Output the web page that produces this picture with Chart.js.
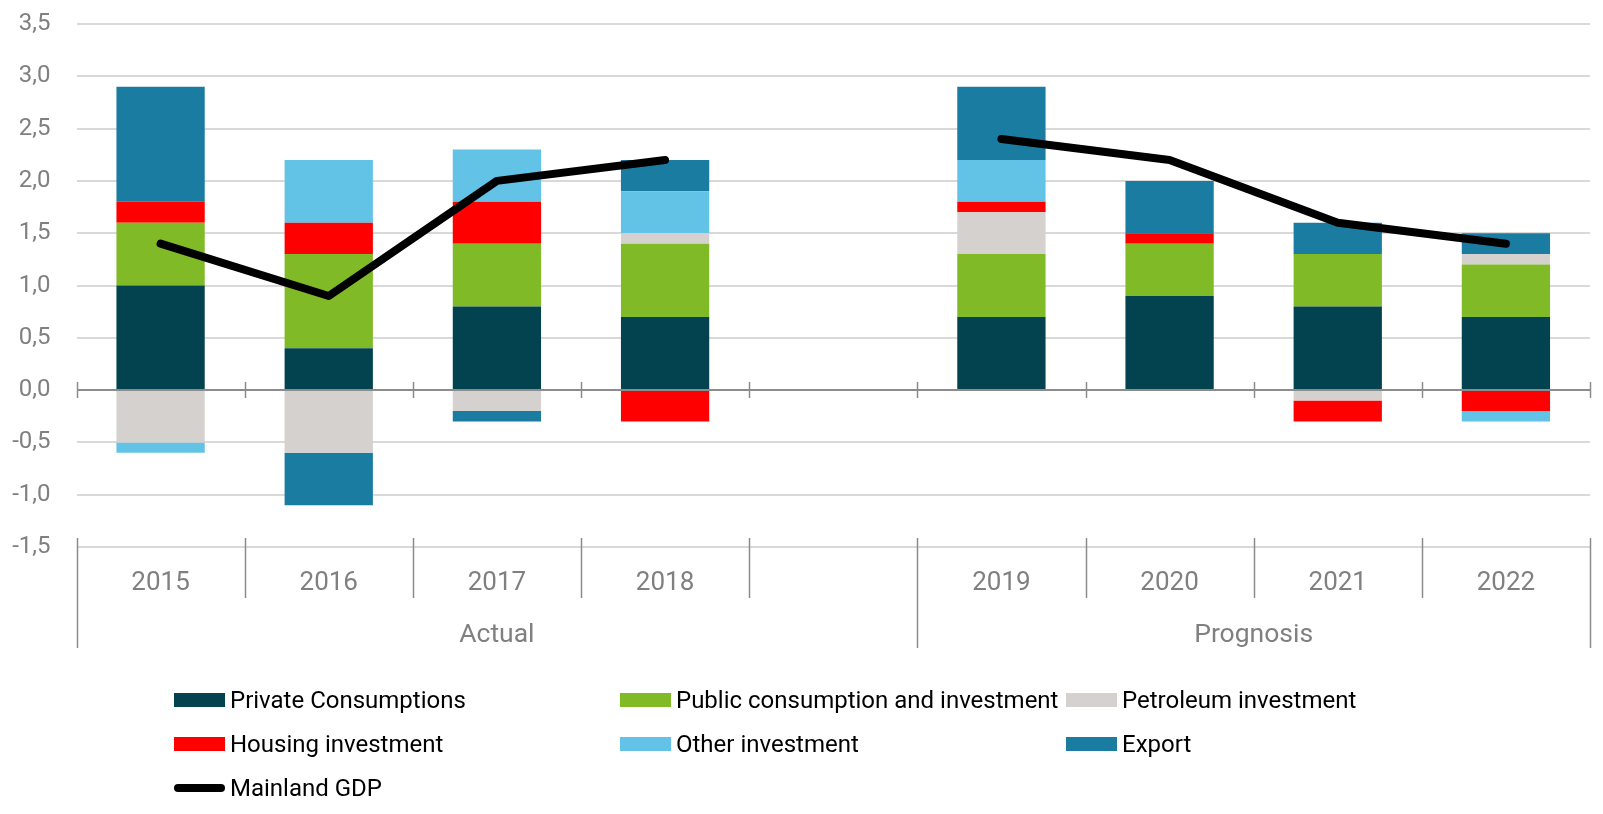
<!DOCTYPE html>
<html>
<head>
<meta charset="utf-8">
<script src="https://cdn.jsdelivr.net/npm/chart.js@4"></script>
<style>
body { margin: 0; background: #fff; font-family: Roboto, sans-serif; }
#wrap { position: relative; width: 1603px; height: 814px; }
#legend { position: absolute; left: 174px; top: 678px; display: grid; grid-template-columns: 446px 446px 446px; grid-auto-rows: 44px; }
.item { display: flex; align-items: center; font-size: 24px; color: #000; white-space: nowrap; }
.sw { width: 51px; height: 14px; margin-right: 5px; flex: none; }
</style>
</head>
<body>
<div id="wrap"><canvas id="chart"></canvas><div id="legend"></div></div>
<script>
// categories (empty slot separates actual from prognosis)
var years = ['2015', '2016', '2017', '2018', '', '2019', '2020', '2021', '2022'];
var groupLabels = ['Actual', 'Prognosis'];
var groupSizes = [5, 4];

// contributions to mainland GDP growth, percentage points
var privateCons = [1.0, 0.4, 0.8, 0.7, null, 0.7, 0.9, 0.8, 0.7];
var publicCons  = [0.6, 0.9, 0.6, 0.7, null, 0.6, 0.5, 0.5, 0.5];
var petroleum   = [-0.5, -0.6, -0.2, 0.1, null, 0.4, 0, -0.1, 0.1];
var housing     = [0.2, 0.3, 0.4, -0.3, null, 0.1, 0.1, -0.2, -0.2];
var otherInv    = [-0.1, 0.6, 0.5, 0.4, null, 0.4, 0, 0, -0.1];
var exports     = [1.1, -0.5, -0.1, 0.3, null, 0.7, 0.5, 0.3, 0.2];
var mainlandGdp = [1.4, 0.9, 2.0, 2.2, null, 2.4, 2.2, 1.6, 1.4];

var yMin = -1.5, yMax = 3.5, yStep = 0.5;

function bar(label, data, color) {
  return { type: 'bar', label: label, data: data, backgroundColor: color, order: 1,
           barPercentage: 1, categoryPercentage: 0.525 };
}

var datasets = [
  bar('Private Consumptions', privateCons, '#03434f'),
  bar('Public consumption and investment', publicCons, '#80ba27'),
  bar('Petroleum investment', petroleum, '#d5d1ce'),
  bar('Housing investment', housing, '#ff0000'),
  bar('Other investment', otherInv, '#62c3e6'),
  bar('Export', exports, '#1a7ca0'),
  { type: 'line', label: 'Mainland GDP', data: mainlandGdp, borderColor: '#000', backgroundColor: '#000',
    borderWidth: 8, borderCapStyle: 'round', borderJoinStyle: 'round', pointRadius: 0,
    spanGaps: false, stack: 'gdp', order: 0 }
];

var axisLines = {
  id: 'axisLines',
  afterDraw: function (chart) {
    var c = chart.ctx, x = chart.scales.x, y = chart.scales.y;
    var n = years.length, w = x.width / n, y0 = y.getPixelForValue(0), bot = chart.chartArea.bottom;
    c.save();
    c.strokeStyle = '#8c8c8c';
    c.lineWidth = 1.5;
    var groupEdges = [0];
    groupSizes.forEach(function (s) { groupEdges.push(groupEdges[groupEdges.length - 1] + s); });
    for (var i = 0; i <= n; i++) {
      var px = Math.round(x.left + i * w) + 0.5;
      c.beginPath();
      c.moveTo(px, y0 - 8); c.lineTo(px, y0 + 8);
      c.moveTo(px, bot - 9);
      c.lineTo(px, groupEdges.indexOf(i) >= 0 ? bot + 101 : bot + 51);
      c.stroke();
    }
    c.fillStyle = '#808080';
    c.font = '26.5px Roboto';
    c.textAlign = 'center';
    c.textBaseline = 'middle';
    for (var g = 0; g < groupLabels.length; g++) {
      var cx = x.left + (groupEdges[g] + groupEdges[g + 1]) / 2 * w;
      c.fillText(groupLabels[g], cx, bot + 88);
    }
    c.restore();
  }
};

var chart = new Chart(document.getElementById('chart'), {
  data: { labels: years, datasets: datasets },
  options: {
    responsive: true,
    maintainAspectRatio: false,
    animation: false,
    layout: { padding: { top: 24, right: 13, bottom: 207, left: 0 } },
    plugins: { legend: { display: false }, tooltip: { enabled: false } },
    scales: {
      x: {
        stacked: true,
        grid: { display: false, drawTicks: false },
        border: { display: false },
        ticks: { color: '#808080', font: { family: 'Roboto', size: 26 }, padding: 21 },
        afterFit: function (s) { s.height = 60; }
      },
      y: {
        stacked: true,
        min: yMin, max: yMax,
        grid: {
          drawTicks: false,
          lineWidth: 2,
          color: function (ctx) { return ctx.tick && ctx.tick.value === 0 ? '#8c8c8c' : '#d9d9d9'; }
        },
        border: { display: false },
        ticks: {
          stepSize: yStep, padding: 26, color: '#808080', font: { family: 'Roboto', size: 24 },
          callback: function (v) { return v.toFixed(1).replace('.', ','); }
        },
        afterFit: function (s) { s.width = 76.5; s.paddingTop = 0; s.paddingBottom = 0; }
      }
    }
  },
  plugins: [axisLines]
});

// legend in three columns
var legend = document.getElementById('legend');
chart.data.datasets.forEach(function (ds) {
  var item = document.createElement('div');
  item.className = 'item';
  var sw = document.createElement('span');
  sw.className = 'sw';
  sw.style.background = ds.type === 'line' ? ds.borderColor : ds.backgroundColor;
  if (ds.type === 'line') { sw.style.height = '8px'; sw.style.borderRadius = '4px'; }
  item.appendChild(sw);
  item.appendChild(document.createTextNode(ds.label));
  legend.appendChild(item);
});
</script>
</body>
</html>
